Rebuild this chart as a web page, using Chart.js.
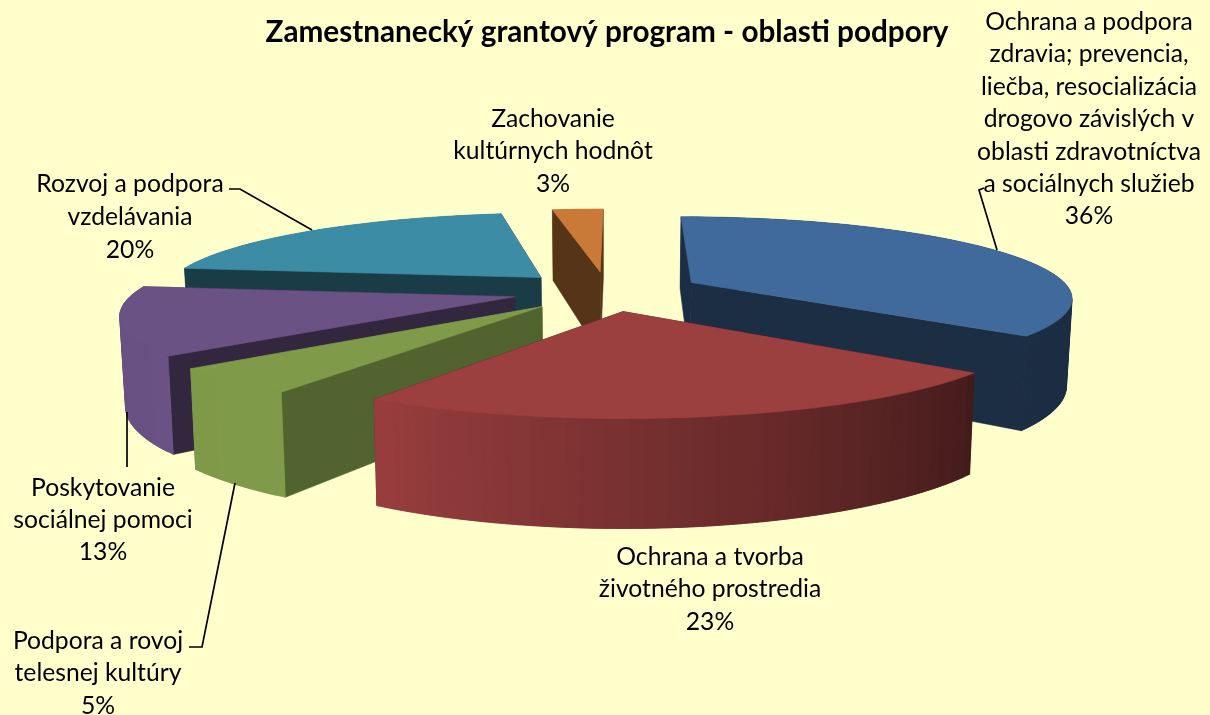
<!DOCTYPE html>
<html>
<head>
<meta charset="utf-8">
<script src="https://cdn.jsdelivr.net/npm/chart.js@4"></script>
<style>html,body{margin:0;padding:0;background:#FFFFCC}canvas{display:block}</style>
</head>
<body>
<canvas id="c" width="1210" height="715"></canvas>
<script>
// --- data
const categories = [
  "Ochrana a podpora zdravia; prevencia, liečba, resocializácia drogovo závislých v oblasti zdravotníctva a sociálnych služieb",
  "Ochrana a tvorba životného prostredia",
  "Podpora a rovoj telesnej kultúry",
  "Poskytovanie sociálnej pomoci",
  "Rozvoj a podpora vzdelávania",
  "Zachovanie kultúrnych hodnôt"
];
const values = [35.7, 23.2, 5.0, 13.1, 20.4, 2.6];
const titleText = "Zamestnanecký grantový program - oblasti podpory";

// --- style
const topColors  = ["#416A9C", "#9C3F3F", "#7F9A48", "#6B5285", "#3C8CA5", "#C97A38"];
const edgeShade  = [0.43, 0.45, 0.64, 0.48, 0.43, 0.43];
const paintOrder = [5, 4, 0, 3, 2, 1];
const labelLines = [
  ["Ochrana a podpora","zdravia; prevencia,","liečba, resocializácia","drogovo závislých v","oblasti zdravotníctva","a sociálnych služieb"],
  ["Ochrana a tvorba","životného prostredia"],
  ["Podpora a rovoj","telesnej kultúry"],
  ["Poskytovanie","sociálnej pomoci"],
  ["Rozvoj a podpora","vzdelávania"],
  ["Zachovanie","kultúrnych hodnôt"]
];
const labelAnchors = [[1089,22,32.4],[710,557,32.5],[98,641,32.5],[103,488,32],[130,184,33],[553,119,32.5]];
const leaders = [
  [[984,188],[979,190],[997,250]],
  [],
  [[235,483],[202,647],[189,647]],
  [[127,412],[127,467]],
  [[229,189],[240,189],[312,230]],
  []
];

// --- projection of the flat pie onto the tilted plane
const view = {cx:607, cy:291, A:380, B:80, p:0.175, H:86, k:0.988, skew:2.5, explode:0.25};
function project(u, v, low){
  const w = 1 + view.p * v;
  const kk = low ? view.k : 1;
  return [view.cx + (kk * view.A * u + view.skew * v) / w, view.cy + (-view.B * v + (low ? view.H : 0)) / w];
}
function shadeAt(deg){
  // lighting of the curved wall as a function of the angle from the top
  if (deg <= 130) return 0.43;
  if (deg >= 212) return 1 - Math.min(1,(deg-212)/400)*0.1;
  return 0.45 + (deg-130)/82*0.53;
}
function mix(hex, f){
  const n = parseInt(hex.slice(1),16);
  return `rgb(${Math.round((n>>16&255)*f)},${Math.round((n>>8&255)*f)},${Math.round((n&255)*f)})`;
}
function poly(ctx, pts, fill, seal){
  ctx.beginPath();
  pts.forEach((q,i)=> i?ctx.lineTo(q[0],q[1]):ctx.moveTo(q[0],q[1]));
  ctx.closePath();
  ctx.fillStyle = fill;
  ctx.fill();
  if (seal){ ctx.strokeStyle = fill; ctx.lineWidth = 0.6; ctx.stroke(); }
}
function drawSlice(ctx, arc, i){
  const t0 = arc.startAngle + Math.PI/2, t1 = arc.endAngle + Math.PI/2, mid = (t0+t1)/2;
  const ou = Math.sin(mid)*view.explode, ov = Math.cos(mid)*view.explode;
  const n = Math.max(6, Math.ceil((t1-t0)*180/Math.PI/1.5));
  const rim = [];
  for (let s=0;s<=n;s++){
    const t = t0+(t1-t0)*s/n;
    rim.push({t, u:ou+Math.sin(t), v:ov+Math.cos(t)});
  }
  const quad = (a,b)=>[project(a.u,a.v,0),project(b.u,b.v,0),project(b.u,b.v,1),project(a.u,a.v,1)];
  const apex = {u:ou, v:ov};
  const eye = -1/view.p;
  const hidden=[], front=[];
  for (let s=0;s<n;s++){
    const a=rim[s], b=rim[s+1], over=rim[Math.min(n,s+2)], tm=(a.t+b.t)/2;
    const nu=Math.sin(tm), nv=Math.cos(tm);
    const mu=(a.u+b.u)/2, mv=(a.v+b.v)/2;
    const facing = (0-mu)*nu + (eye-mv)*nv > 0;
    const col = mix(topColors[i], shadeAt(tm*180/Math.PI));
    // each strip overlaps the next one, and later strips paint over it: no seams
    (facing?front:hidden).push([quad(a,over),col]);
  }
  const dark = mix(topColors[i], edgeShade[i]);
  hidden.forEach(q=>poly(ctx,q[0],q[1]));
  const radials = [rim[0],rim[n]].sort((x,y)=>y.v-x.v);
  radials.forEach(r=>poly(ctx,quad(apex,r),dark,true));
  front.forEach(q=>poly(ctx,q[0],q[1],true));
  const face=[project(apex.u,apex.v,0)];
  rim.forEach(r=>face.push(project(r.u,r.v,0)));
  poly(ctx,face,topColors[i],true);
}
const pie3d = {
  id:'pie3d',
  beforeDraw(chart){
    const c=chart.ctx; c.save(); c.fillStyle='#FFFFCC'; c.fillRect(0,0,chart.width,chart.height); c.restore();
  },
  beforeDatasetsDraw(chart){
    const ctx=chart.ctx, arcs=chart.getDatasetMeta(0).data;
    ctx.save();
    paintOrder.forEach(i=>drawSlice(ctx,arcs[i],i));
    ctx.restore();
    return false;
  },
  afterDraw(chart){
    const ctx=chart.ctx, total=values.reduce((a,b)=>a+b,0);
    ctx.save();
    ctx.strokeStyle='#000'; ctx.lineWidth=1.7;
    leaders.forEach(l=>{ if(!l.length) return; ctx.beginPath(); l.forEach((q,i)=>i?ctx.lineTo(q[0],q[1]):ctx.moveTo(q[0],q[1])); ctx.stroke(); });
    ctx.fillStyle='#000'; ctx.font='24.7px Lato'; ctx.textAlign='center'; ctx.textBaseline='middle';
    labelLines.forEach((lines,i)=>{
      const [x,y,dy]=labelAnchors[i];
      lines.forEach((t,j)=>ctx.fillText(t,x,y+j*dy));
      ctx.fillText(Math.round(values[i]/total*100)+'%',x,y+lines.length*dy);
    });
    ctx.restore();
  }
};
new Chart(document.getElementById('c'),{
  type:'pie',
  data:{labels:categories,datasets:[{data:values,backgroundColor:topColors,borderWidth:0}]},
  options:{
    responsive:false,animation:false,
    layout:{padding:{left:4}},
    plugins:{
      legend:{display:false},tooltip:{enabled:false},
      title:{display:true,text:titleText,color:'#000',font:{family:'Lato',size:29.7,weight:'bold'},padding:{top:15,bottom:0}}
    }
  },
  plugins:[pie3d]
});
</script>
</body>
</html>
